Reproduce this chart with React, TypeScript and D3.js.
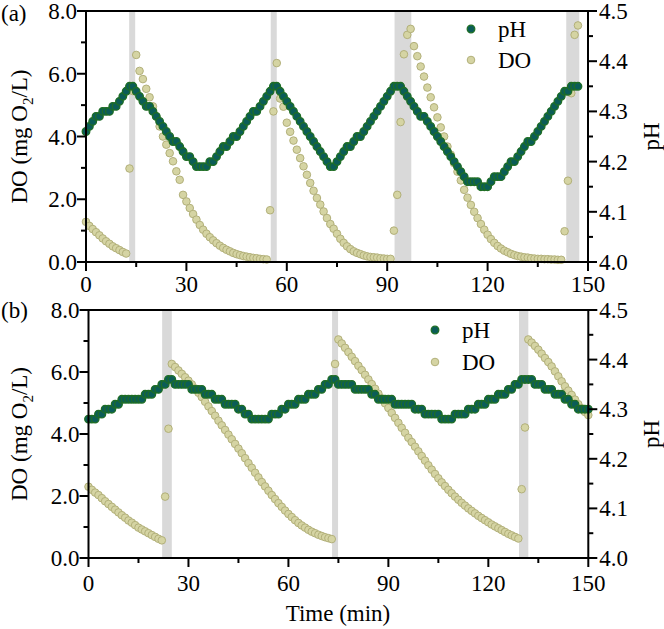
import React from 'react';
import * as d3 from 'd3';

// Panel (a): one sample per minute, starting at t = 0
const PH_A = [
  4.26, 4.27, 4.28, 4.29, 4.29, 4.30, 4.30, 4.30, 4.31, 4.31, 4.32, 4.33, 4.34, 4.35, 4.35,
  4.34, 4.33, 4.32, 4.31, 4.31, 4.30, 4.29, 4.28, 4.27, 4.26, 4.25, 4.24, 4.24, 4.23, 4.22,
  4.21, 4.21, 4.20, 4.19, 4.19, 4.19, 4.19, 4.20, 4.20, 4.21, 4.22, 4.23, 4.23, 4.24, 4.25,
  4.25, 4.26, 4.27, 4.28, 4.29, 4.30, 4.30, 4.31, 4.32, 4.33, 4.34, 4.35, 4.35, 4.34, 4.33,
  4.32, 4.31, 4.30, 4.29, 4.28, 4.27, 4.26, 4.25, 4.24, 4.23, 4.22, 4.21, 4.20, 4.19, 4.19,
  4.20, 4.21, 4.22, 4.23, 4.23, 4.24, 4.25, 4.25, 4.26, 4.27, 4.28, 4.29, 4.30, 4.31, 4.32,
  4.33, 4.34, 4.35, 4.35, 4.35, 4.34, 4.33, 4.32, 4.31, 4.30, 4.29, 4.29, 4.28, 4.27, 4.26,
  4.25, 4.24, 4.23, 4.22, 4.21, 4.20, 4.19, 4.18, 4.17, 4.16, 4.16, 4.16, 4.16, 4.15, 4.15,
  4.15, 4.16, 4.17, 4.17, 4.17, 4.18, 4.19, 4.20, 4.20, 4.21, 4.22, 4.23, 4.24, 4.24, 4.25,
  4.26, 4.27, 4.28, 4.29, 4.30, 4.31, 4.32, 4.33, 4.34, 4.34, 4.35, 4.35, 4.35,
];
const DO_A = [
  1.28, 1.15, 1.05, 0.95, 0.85, 0.75, 0.66, 0.58, 0.50, 0.44, 0.38, 0.32, 0.27,
  2.98, 5.45, 6.60, 6.09, 5.83, 5.52, 5.25, 4.96, 4.64, 4.32, 4.00, 3.74, 3.47, 3.21, 2.89, 2.62,
  2.14, 1.93, 1.72, 1.53, 1.35, 1.18, 1.03, 0.90, 0.79, 0.69, 0.60, 0.52, 0.45, 0.39, 0.34, 0.29,
  0.25, 0.22, 0.19, 0.17, 0.15, 0.13, 0.12, 0.10, 0.09, 0.08,
  1.65, 4.80, 6.34, 5.21, 4.95, 4.44, 4.15, 3.87, 3.58, 3.31, 3.05, 2.78, 2.52, 2.27, 2.04, 1.83,
  1.61, 1.40, 1.21, 1.06, 0.90, 0.74, 0.61, 0.50, 0.41, 0.34, 0.29, 0.25, 0.21, 0.18, 0.16, 0.15,
  0.14, 0.12, 0.11, 0.10, 0.10,
  1.00, 2.14, 4.46, 6.62, 7.24, 7.43, 6.88, 6.56, 6.23, 5.91, 5.56, 5.25, 4.93, 4.61, 4.29, 4.00,
  3.68, 3.42, 3.15, 2.88, 2.60, 2.30, 2.05, 1.82, 1.60, 1.40, 1.21, 1.03, 0.87, 0.73, 0.61, 0.51,
  0.43, 0.36, 0.31, 0.26, 0.22, 0.19, 0.17, 0.15, 0.14, 0.12, 0.11, 0.10, 0.10, 0.09, 0.09, 0.08,
  0.08, 0.07, 0.07,
  0.98, 2.59, 5.38, 7.24, 7.54,
];
const BANDS_A = [[12.9, 14.7], [55.2, 57.0], [92.2, 97.2], [143.5, 147.4]];

// Panel (b): one sample per minute, starting at t = 0
const PH_B = [
  4.28, 4.28, 4.28, 4.29, 4.29, 4.30, 4.30, 4.30, 4.31, 4.31, 4.32, 4.32, 4.32, 4.32, 4.32,
  4.32, 4.32, 4.33, 4.33, 4.33, 4.34, 4.34, 4.35, 4.35, 4.36, 4.36, 4.35, 4.35, 4.35, 4.35,
  4.35, 4.34, 4.34, 4.34, 4.34, 4.33, 4.33, 4.33, 4.32, 4.32, 4.32, 4.31, 4.31, 4.31, 4.31,
  4.30, 4.30, 4.29, 4.29, 4.28, 4.28, 4.28, 4.28, 4.28, 4.28, 4.29, 4.29, 4.29, 4.30, 4.30,
  4.31, 4.31, 4.31, 4.32, 4.32, 4.32, 4.33, 4.33, 4.33, 4.34, 4.34, 4.35, 4.35, 4.36, 4.36,
  4.35, 4.35, 4.35, 4.35, 4.35, 4.34, 4.34, 4.34, 4.34, 4.34, 4.33, 4.33, 4.32, 4.32, 4.32,
  4.32, 4.32, 4.31, 4.31, 4.31, 4.31, 4.31, 4.31, 4.30, 4.30, 4.30, 4.29, 4.29, 4.29, 4.29,
  4.29, 4.28, 4.28, 4.28, 4.28, 4.29, 4.29, 4.29, 4.29, 4.30, 4.30, 4.30, 4.31, 4.31, 4.31,
  4.32, 4.32, 4.32, 4.33, 4.33, 4.33, 4.34, 4.34, 4.35, 4.35, 4.36, 4.36, 4.36, 4.36, 4.35,
  4.35, 4.35, 4.34, 4.34, 4.34, 4.33, 4.33, 4.33, 4.32, 4.32, 4.31, 4.31, 4.30, 4.30, 4.30,
  4.30,
];
const DO_B = [
  2.30, 2.20, 2.11, 2.03, 1.93, 1.83, 1.74, 1.65, 1.56, 1.47, 1.38, 1.30, 1.21, 1.14, 1.06,
  0.98, 0.92, 0.86, 0.80, 0.74, 0.68, 0.62, 0.57,
  1.98, 4.17, 6.26, 6.16, 6.05, 5.94, 5.83, 5.72, 5.60, 5.47, 5.33, 5.19, 5.04, 4.89, 4.74, 4.59,
  4.43, 4.28, 4.13, 3.98, 3.83, 3.68, 3.53, 3.38, 3.22, 3.06, 2.91, 2.75, 2.60, 2.45, 2.31, 2.17,
  2.03, 1.90, 1.77, 1.65, 1.53, 1.42, 1.32, 1.22, 1.13, 1.05, 0.98, 0.91, 0.85, 0.80, 0.75, 0.71,
  0.67, 0.64, 0.61,
  6.26, 7.05, 6.92, 6.78, 6.64, 6.49, 6.35, 6.20, 6.06, 5.91, 5.76, 5.61, 5.46, 5.30, 5.15, 4.99,
  4.84, 4.68, 4.52, 4.36, 4.20, 4.04, 3.88, 3.74, 3.59, 3.44, 3.29, 3.14, 2.99, 2.85, 2.71, 2.57,
  2.44, 2.32, 2.20, 2.09, 1.98, 1.88, 1.78, 1.69, 1.60, 1.52, 1.44, 1.36, 1.29, 1.22, 1.15, 1.08,
  1.02, 0.96, 0.90, 0.84, 0.78, 0.73, 0.68, 0.63,
  2.22, 4.21, 7.05, 6.95, 6.84, 6.72, 6.59, 6.45, 6.32, 6.18, 6.02, 5.86, 5.70, 5.54, 5.40, 5.26,
  5.11, 4.96, 4.83, 4.71, 4.61,
];
const BANDS_B = [[22.1, 25.0], [73.1, 74.9], [129.2, 132.0]];

const X_TICKS = [0, 30, 60, 90, 120, 150];
const X_MINOR = [15, 45, 75, 105, 135];
const DO_TICKS = [0, 2, 4, 6, 8];
const DO_MINOR = [1, 3, 5, 7];
const PH_TICKS = [4.0, 4.1, 4.2, 4.3, 4.4, 4.5];
const PH_MINOR = [4.05, 4.15, 4.25, 4.35, 4.45];
const SERIES_NAMES = ['pH', 'DO'];

const FONT = "'Liberation Serif', 'Times New Roman', serif";
const FS = 23;
const PH_FILL = '#0b5d57';
const PH_STROKE = '#1f6e24';
const DO_FILL = '#d5d4a3';
const DO_STROKE = '#b2b07a';
const BAND = '#d9d9d9';

type Cfg = {
  left: number; right: number; top: number; bottom: number;
  tag: string; tagY: number; xLabelDy: number;
  legX: number; legY: number; legGap: number;
};

function Panel({ cfg, ph, dov, bands }: { cfg: Cfg; ph: number[]; dov: number[]; bands: number[][] }) {
  const x = d3.scaleLinear().domain([0, 150]).range([cfg.left, cfg.right]);
  const yDO = d3.scaleLinear().domain([0, 8]).range([cfg.bottom, cfg.top]);
  const yPH = d3.scaleLinear().domain([4.0, 4.5]).range([cfg.bottom, cfg.top]);
  const r = 3.8;
  const midY = (cfg.top + cfg.bottom) / 2;
  return (
    <g>
      {bands.map((b, i) => (
        <rect key={'b' + i} x={x(b[0])} y={cfg.top} width={x(b[1]) - x(b[0])} height={cfg.bottom - cfg.top} fill={BAND} />
      ))}
      {dov.map((v, i) => (
        <circle key={'d' + i} cx={x(i)} cy={yDO(v)} r={r} fill={DO_FILL} stroke={DO_STROKE} strokeWidth={1} />
      ))}
      {ph.map((v, i) => (
        <circle key={'p' + i} cx={x(i)} cy={yPH(v)} r={r} fill={PH_FILL} stroke={PH_STROKE} strokeWidth={1.3} />
      ))}
      <rect x={cfg.left} y={cfg.top} width={cfg.right - cfg.left} height={cfg.bottom - cfg.top} fill="none" stroke="#000" strokeWidth={2} />
      {X_TICKS.map((t) => (
        <g key={'xt' + t}>
          <line x1={x(t)} x2={x(t)} y1={cfg.bottom} y2={cfg.bottom + 9} stroke="#000" strokeWidth={2} />
          <text x={x(t)} y={cfg.bottom + cfg.xLabelDy} textAnchor="middle" fontFamily={FONT} fontSize={FS}>{t}</text>
        </g>
      ))}
      {X_MINOR.map((t) => (
        <line key={'xm' + t} x1={x(t)} x2={x(t)} y1={cfg.bottom} y2={cfg.bottom + 5} stroke="#000" strokeWidth={2} />
      ))}
      {DO_TICKS.map((t) => (
        <g key={'yl' + t}>
          <line x1={cfg.left - 9} x2={cfg.left} y1={yDO(t)} y2={yDO(t)} stroke="#000" strokeWidth={2} />
          <text x={cfg.left - 9} y={yDO(t)} dy="0.35em" textAnchor="end" fontFamily={FONT} fontSize={FS}>{t.toFixed(1)}</text>
        </g>
      ))}
      {DO_MINOR.map((t) => (
        <line key={'ylm' + t} x1={cfg.left - 5} x2={cfg.left} y1={yDO(t)} y2={yDO(t)} stroke="#000" strokeWidth={2} />
      ))}
      {PH_TICKS.map((t) => (
        <g key={'yr' + t}>
          <line x1={cfg.right} x2={cfg.right + 9} y1={yPH(t)} y2={yPH(t)} stroke="#000" strokeWidth={2} />
          <text x={cfg.right + 11} y={yPH(t)} dy="0.35em" textAnchor="start" fontFamily={FONT} fontSize={FS}>{t.toFixed(1)}</text>
        </g>
      ))}
      {PH_MINOR.map((t) => (
        <line key={'yrm' + t} x1={cfg.right} x2={cfg.right + 5} y1={yPH(t)} y2={yPH(t)} stroke="#000" strokeWidth={2} />
      ))}
      <text transform={`translate(27,${midY}) rotate(-90)`} textAnchor="middle" fontFamily={FONT} fontSize={FS}>
        DO (mg O<tspan fontSize={15} dy={6}>2</tspan><tspan dy={-6}>/L)</tspan>
      </text>
      <text transform={`translate(659,${midY}) rotate(-90)`} textAnchor="middle" fontFamily={FONT} fontSize={FS}>pH</text>
      <text x={1} y={cfg.tagY} fontFamily={FONT} fontSize={FS}>{cfg.tag}</text>
      <circle cx={cfg.legX} cy={cfg.legY} r={r} fill={PH_FILL} stroke={PH_STROKE} strokeWidth={1.3} />
      <text x={cfg.legX + 27} y={cfg.legY} dy="0.35em" fontFamily={FONT} fontSize={FS}>{SERIES_NAMES[0]}</text>
      <circle cx={cfg.legX} cy={cfg.legY + cfg.legGap} r={r} fill={DO_FILL} stroke={DO_STROKE} strokeWidth={1} />
      <text x={cfg.legX + 27} y={cfg.legY + cfg.legGap} dy="0.35em" fontFamily={FONT} fontSize={FS}>{SERIES_NAMES[1]}</text>
    </g>
  );
}

export default function App() {
  const cfgA: Cfg = { left: 86, right: 588, top: 11, bottom: 262, tag: '(a)', tagY: 21, xLabelDy: 30, legX: 471, legY: 29, legGap: 31 };
  const cfgB: Cfg = { left: 88.5, right: 588.3, top: 310, bottom: 558, tag: '(b)', tagY: 318, xLabelDy: 33, legX: 435, legY: 330, legGap: 32 };
  return (
    <svg width={664} height={629} style={{ position: 'absolute', left: 0, top: 0, background: '#fff' }}>
      <rect width={664} height={629} fill="#fff" />
      <Panel cfg={cfgA} ph={PH_A} dov={DO_A} bands={BANDS_A} />
      <Panel cfg={cfgB} ph={PH_B} dov={DO_B} bands={BANDS_B} />
      <text x={338} y={621} textAnchor="middle" fontFamily={FONT} fontSize={FS}>Time (min)</text>
    </svg>
  );
}
